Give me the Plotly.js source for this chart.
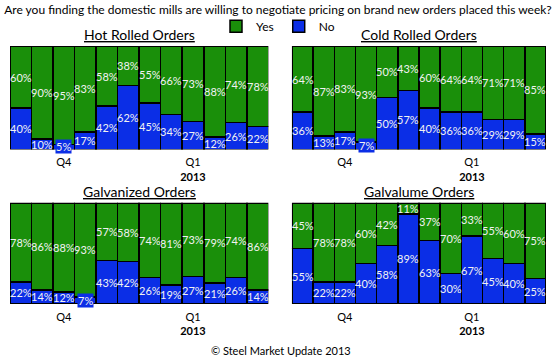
<!DOCTYPE html>
<html>
<head>
<meta charset="utf-8">
<script src="https://cdn.plot.ly/plotly-3.0.1.min.js"></script>
<style>html,body{margin:0;padding:0;background:#fff;}#chart{width:557px;height:357px;}</style>
</head>
<body>
<div id="chart"></div>
<script>
// ---- data ----
const weeks = [1,2,3,4,5,6,7,8,9,10,11,12];
const quarterTickPos = [3,9];
const quarterTickText = ['Q4','Q1'];
const yearLabel = '2013';

const panelTitles = ['Hot Rolled Orders','Cold Rolled Orders','Galvanized Orders','Galvalume Orders'];

const hotYes  = [60,90,95,83,58,38,55,66,73,88,74,78];
const hotNo   = [40,10, 5,17,42,62,45,34,27,12,26,22];
const coldYes = [64,87,83,93,50,43,60,64,64,71,71,85];
const coldNo  = [36,13,17, 7,50,57,40,36,36,29,29,15];
const galvYes = [78,86,88,93,57,58,74,81,73,79,74,86];
const galvNo  = [22,14,12, 7,43,42,26,19,27,21,26,14];
const gvlmYes = [45,78,78,60,42,11,37,70,33,55,60,75];
const gvlmNo  = [55,22,22,40,58,89,63,30,67,45,40,25];

const mainTitle = 'Are you finding the domestic mills are willing to negotiate pricing on brand new orders placed this week?';
const footer = '© Steel Market Update 2013';

// ---- styles ----
const GREEN = '#1a8f0a';
const BLUE = '#0b2ee6';
const FONT = 'Lato, "Open Sans", sans-serif';

const panels = [
  {no: hotNo, yes: hotYes, xa: 'x', ya: 'y'},
  {no: coldNo, yes: coldYes, xa: 'x2', ya: 'y2'},
  {no: galvNo, yes: galvYes, xa: 'x3', ya: 'y3'},
  {no: gvlmNo, yes: gvlmYes, xa: 'x4', ya: 'y4'}
];

const traces = [];
const annotations = [];
panels.forEach((p, i) => {
  traces.push({
    type: 'bar', x: weeks, y: p.no, xaxis: p.xa, yaxis: p.ya,
    name: 'No', legendgroup: 'No', showlegend: i === 0,
    marker: {color: BLUE, line: {color: '#000', width: 1.5}},
    hoverinfo: 'none'
  });
  traces.push({
    type: 'bar', x: weeks, y: p.yes, xaxis: p.xa, yaxis: p.ya,
    name: 'Yes', legendgroup: 'Yes', showlegend: i === 0,
    marker: {color: GREEN, line: {color: '#000', width: 1.5}},
    hoverinfo: 'none'
  });
  weeks.forEach((w, k) => {
    const n = p.no[k], y = p.yes[k];
    annotations.push({
      xref: p.xa, yref: p.ya, x: w, y: n / 2, text: n + '%', showarrow: false,
      xanchor: 'center', yanchor: 'middle',
      bgcolor: n < 9 ? BLUE : 'rgba(0,0,0,0)', borderpad: 0,
      font: {family: FONT, size: 11, color: '#f2f2f2'}
    });
    annotations.push({
      xref: p.xa, yref: p.ya, x: w, y: n + y / 2, text: y + '%', showarrow: false,
      xanchor: 'center', yanchor: 'middle',
      font: {family: FONT, size: 11, color: '#f2f2f2'}
    });
  });
});

const xDomL = [0, 0.482], xDomR = [0.526, 1];
const yDomT = [0.599, 1], yDomB = [0, 0.392];

function xax(dom, anchor) {
  return {
    domain: dom, anchor: anchor, range: [0.5, 12.5], fixedrange: true,
    tickvals: quarterTickPos,
    ticktext: quarterTickText.map((t, k) => k === 1 ? t + '<br><b>' + yearLabel + '</b>' : t),
    ticks: '', ticklabelstandoff: 5, showgrid: false, zeroline: false, showline: false,
    tickfont: {family: FONT, size: 11, color: '#000'}
  };
}
function yax(dom, anchor) {
  return {domain: dom, anchor: anchor, range: [0, 100], visible: false, fixedrange: true};
}

const titlePos = [
  {x: (xDomL[0] + xDomL[1]) / 2, y: yDomT[1]},
  {x: (xDomR[0] + xDomR[1]) / 2, y: yDomT[1]},
  {x: (xDomL[0] + xDomL[1]) / 2, y: yDomB[1]},
  {x: (xDomR[0] + xDomR[1]) / 2, y: yDomB[1]}
];
panelTitles.forEach((t, i) => {
  annotations.push({
    text: '<u>' + t + '</u>', xref: 'paper', yref: 'paper',
    x: titlePos[i].x, y: titlePos[i].y, yshift: 1,
    xanchor: 'center', yanchor: 'bottom', showarrow: false,
    font: {family: FONT, size: 14, color: '#000'}
  });
});
annotations.push({
  text: footer, xref: 'paper', yref: 'paper', x: 0.505, y: 0, yshift: -38,
  xanchor: 'center', yanchor: 'top', showarrow: false,
  font: {family: FONT, size: 11, color: '#000'}
});

const layout = {
  width: 557, height: 357,
  margin: {l: 10, r: 11, t: 46, b: 53},
  paper_bgcolor: '#fff', plot_bgcolor: '#fff',
  title: {text: mainTitle, x: 0.5, xref: 'paper', y: 0.985, yanchor: 'top',
          font: {family: FONT, size: 12, color: '#000'}},
  barmode: 'stack', bargap: 0,
  showlegend: true,
  legend: {orientation: 'h', x: 0.5, xanchor: 'center', y: 1.02, yanchor: 'bottom',
           yref: 'paper', traceorder: 'reversed',
           font: {family: FONT, size: 12, color: '#000'}, bgcolor: 'rgba(0,0,0,0)',
           itemwidth: 30, tracegroupgap: 0},
  xaxis: xax(xDomL, 'y'), yaxis: yax(yDomT, 'x'),
  xaxis2: xax(xDomR, 'y2'), yaxis2: yax(yDomT, 'x2'),
  xaxis3: xax(xDomL, 'y3'), yaxis3: yax(yDomB, 'x3'),
  xaxis4: xax(xDomR, 'y4'), yaxis4: yax(yDomB, 'x4'),
  annotations: annotations
};

Plotly.newPlot('chart', traces, layout, {displayModeBar: false, staticPlot: true});
</script>
</body>
</html>
